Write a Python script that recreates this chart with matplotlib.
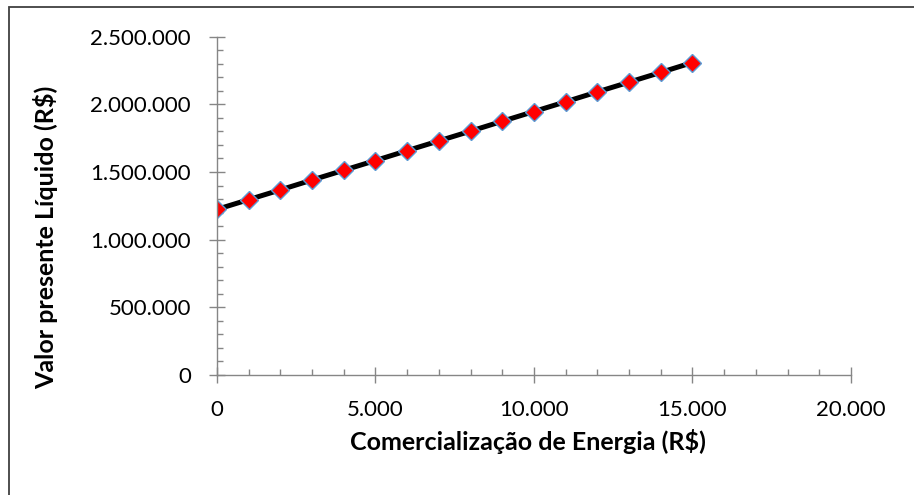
import matplotlib
matplotlib.use("Agg")
import matplotlib.pyplot as plt
from matplotlib.patches import Rectangle
from matplotlib.ticker import MultipleLocator, FuncFormatter

plt.rcParams["font.family"] = ["Lato", "DejaVu Sans"]

AXIS = "#868686"
MARKER_EDGE = "#5b9bd5"

# valores
comercializacao = [0, 1000, 2000, 3000, 4000, 5000, 6000, 7000,
                   8000, 9000, 10000, 11000, 12000, 13000, 14000, 15000]
vpl = [1224000, 1296000, 1368000, 1441000, 1513000, 1585000, 1658000, 1730000,
       1802000, 1875000, 1947000, 2019000, 2092000, 2164000, 2236000, 2309000]


def milhar(v, pos):
    return f"{v:,.0f}".replace(",", ".")


fig = plt.figure(figsize=(9.14, 4.95), dpi=100)
ax = fig.add_axes([0.2374, 0.2424, 0.6936, 0.6835])

ax.plot(comercializacao, vpl, color="black", lw=3.6, zorder=2,
        marker="D", ms=9, mfc="red", mec=MARKER_EDGE, mew=1.0)

ax.set_xlim(0, 20000)
ax.set_ylim(0, 2500000)
ax.xaxis.set_major_locator(MultipleLocator(5000))
ax.xaxis.set_minor_locator(MultipleLocator(1000))
ax.yaxis.set_major_locator(MultipleLocator(500000))
ax.yaxis.set_minor_locator(MultipleLocator(100000))
ax.xaxis.set_major_formatter(FuncFormatter(milhar))
ax.yaxis.set_major_formatter(FuncFormatter(milhar))

for s in ("top", "right"):
    ax.spines[s].set_visible(False)
for s in ("left", "bottom"):
    ax.spines[s].set_color(AXIS)
    ax.spines[s].set_linewidth(1.0)

ax.tick_params(which="major", direction="inout", length=11.5, width=1.0,
               color=AXIS, labelsize=16, labelcolor="black")
ax.tick_params(axis="y", which="major", pad=13)
ax.tick_params(axis="x", which="major", pad=12.5)
ax.tick_params(which="minor", direction="in", length=4.3, width=1.0, color=AXIS)

fig.text(0.578, 0.109, "Comercialização de Energia (R$)", ha="center", va="center",
         fontsize=18, fontweight="bold")
fig.text(0.050, 0.52, "Valor presente Líquido (R$)", ha="center", va="center",
         rotation=90, fontsize=18, fontweight="bold")

# moldura do gráfico (cortada à direita e embaixo)
fig.patches.append(Rectangle((9 / 914, -0.1), 1.2, 1 - 7 / 495 + 0.1,
                             transform=fig.transFigure, fill=False,
                             ec="#404040", lw=1.3))

fig.savefig("out.png", dpi=100)
